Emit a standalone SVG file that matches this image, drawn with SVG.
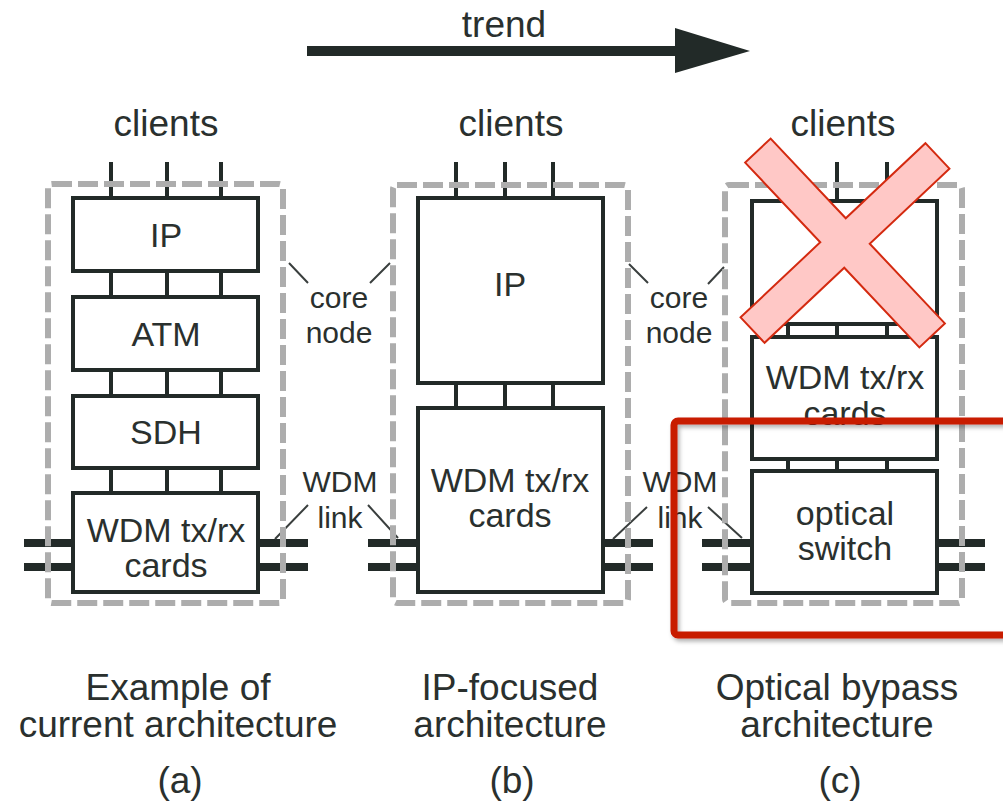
<svg xmlns="http://www.w3.org/2000/svg" width="1003" height="810" viewBox="0 0 1003 810">
<defs>
<style>
.t{font-family:"Liberation Sans",Arial,sans-serif;fill:#2a302e;text-anchor:middle}
.big{font-size:37px}
.cap{font-size:37px}
.box{font-size:34px}
.lab{font-size:30px}
.blk{fill:#fff;stroke:#222a28;stroke-width:4}
.ln{stroke:#222a28;stroke-width:4;fill:none}
.lk{stroke:#222a28;stroke-width:8;fill:none}
.ld{stroke:#3a3f3e;stroke-width:2;fill:none}
.dash{fill:none;stroke:#adadad;stroke-width:6;stroke-dasharray:20 6;}
</style>
<filter id="sh" x="-10%" y="-10%" width="130%" height="130%">
<feDropShadow dx="2" dy="3" stdDeviation="2" flood-color="#000" flood-opacity="0.3"/>
</filter>
</defs>
<rect width="1003" height="810" fill="#fff"/>

<g id="trend">
<line x1="307" y1="51" x2="680" y2="51" stroke="#222a28" stroke-width="10"/>
<polygon points="675,28 750,51 675,73" fill="#222a28"/>
<text class="t big" x="504" y="37">trend</text>
</g>

<g id="connectors">
<path class="ln" d="M111,162V198M167,162V198M221,162V198"/>
<path class="ln" d="M111,271V297M167,271V297M221,271V297"/>
<path class="ln" d="M111,370V396M167,370V396M221,370V396"/>
<path class="ln" d="M111,468V493M167,468V493M221,468V493"/>
<path class="lk" d="M24,543H73M24,567H73M258,543H308M258,567H308"/>
<path class="ln" d="M456,162V198M505,162V198M553,162V198"/>
<path class="ln" d="M456,383V408M505,383V408M553,383V408"/>
<path class="lk" d="M368,543H418M368,567H418M603,543H653M603,567H653"/>
<path class="ln" d="M788,162V201M837,162V201M887,162V201"/>
<path class="ln" d="M788,324V337M837,324V337M887,324V337"/>
<path class="ln" d="M788,459V471M837,459V471M887,459V471"/>
<path class="lk" d="M702,543H752M702,567H752M937,543H985M937,567H985"/>
<path class="ld" d="M289,263L308,283M390,263L370,283M629,264L648,283M724,267L708,284"/>
<path class="ld" d="M308,505L275,539M368,505L398,538M647,507L613,539M708,507L742,538"/>
</g>

<g id="node-a">
<rect class="blk" x="73" y="198" width="185" height="73"/>
<text class="t box" x="166" y="247">IP</text>
<rect class="blk" x="73" y="297" width="185" height="73"/>
<text class="t box" x="166" y="346">ATM</text>
<rect class="blk" x="73" y="396" width="185" height="72"/>
<text class="t box" x="166" y="444">SDH</text>
<rect class="blk" x="73" y="493" width="185" height="99"/>
<text class="t box" x="166" y="542">WDM tx/rx</text>
<text class="t box" x="166" y="577">cards</text>
<rect class="dash" x="48" y="184" width="235" height="419" rx="4"/>
</g>

<g id="node-b">
<rect class="blk" x="418" y="198" width="185" height="185"/>
<text class="t box" x="510" y="296">IP</text>
<rect class="blk" x="418" y="408" width="185" height="184"/>
<text class="t box" x="510" y="492">WDM tx/rx</text>
<text class="t box" x="510" y="527">cards</text>
<rect class="dash" x="393" y="185" width="235" height="418" rx="4"/>
</g>

<g id="node-c">
<rect class="blk" x="752" y="201" width="185" height="123"/>
<rect class="blk" x="752" y="337" width="185" height="122"/>
<text class="t box" x="845" y="389">WDM tx/rx</text>
<text class="t box" x="845" y="425">cards</text>
<rect class="blk" x="752" y="471" width="185" height="122"/>
<text class="t box" x="845" y="525">optical</text>
<text class="t box" x="845" y="560">switch</text>
<rect class="dash" x="725" y="185" width="237" height="418" rx="4"/>
</g>

<g id="labels">
<text class="t big" x="166" y="136">clients</text>
<text class="t big" x="511" y="136">clients</text>
<text class="t big" x="843" y="136">clients</text>
<text class="t lab" x="339" y="308">core</text>
<text class="t lab" x="339" y="343">node</text>
<text class="t lab" x="679" y="308">core</text>
<text class="t lab" x="679" y="343">node</text>
<text class="t lab" x="340" y="492">WDM</text>
<text class="t lab" x="340" y="528">link</text>
<text class="t lab" x="680" y="492">WDM</text>
<text class="t lab" x="680" y="528">link</text>
</g>

<g id="captions">
<text class="t cap" x="178" y="700">Example of</text>
<text class="t cap" x="178" y="737">current architecture</text>
<text class="t cap" x="180" y="793">(a)</text>
<text class="t cap" x="510" y="700">IP-focused</text>
<text class="t cap" x="510" y="737">architecture</text>
<text class="t cap" x="512" y="793">(b)</text>
<text class="t cap" x="837" y="700">Optical bypass</text>
<text class="t cap" x="837" y="737">architecture</text>
<text class="t cap" x="840" y="793">(c)</text>
</g>

<g id="highlight">
<rect x="674" y="421" width="345" height="214" rx="4" fill="none" stroke="#c81a00" stroke-width="7" filter="url(#sh)"/>
<g transform="translate(845 243) rotate(46.7)">
<path d="M127,-17.5L127,17.5L17.5,17.5L17.5,127L-17.5,127L-17.5,17.5L-127,17.5L-127,-17.5L-17.5,-17.5L-17.5,-127L17.5,-127L17.5,-17.5Z" fill="#ffc8c6" stroke="#d42a10" stroke-width="2"/>
</g>
</g>
</svg>
